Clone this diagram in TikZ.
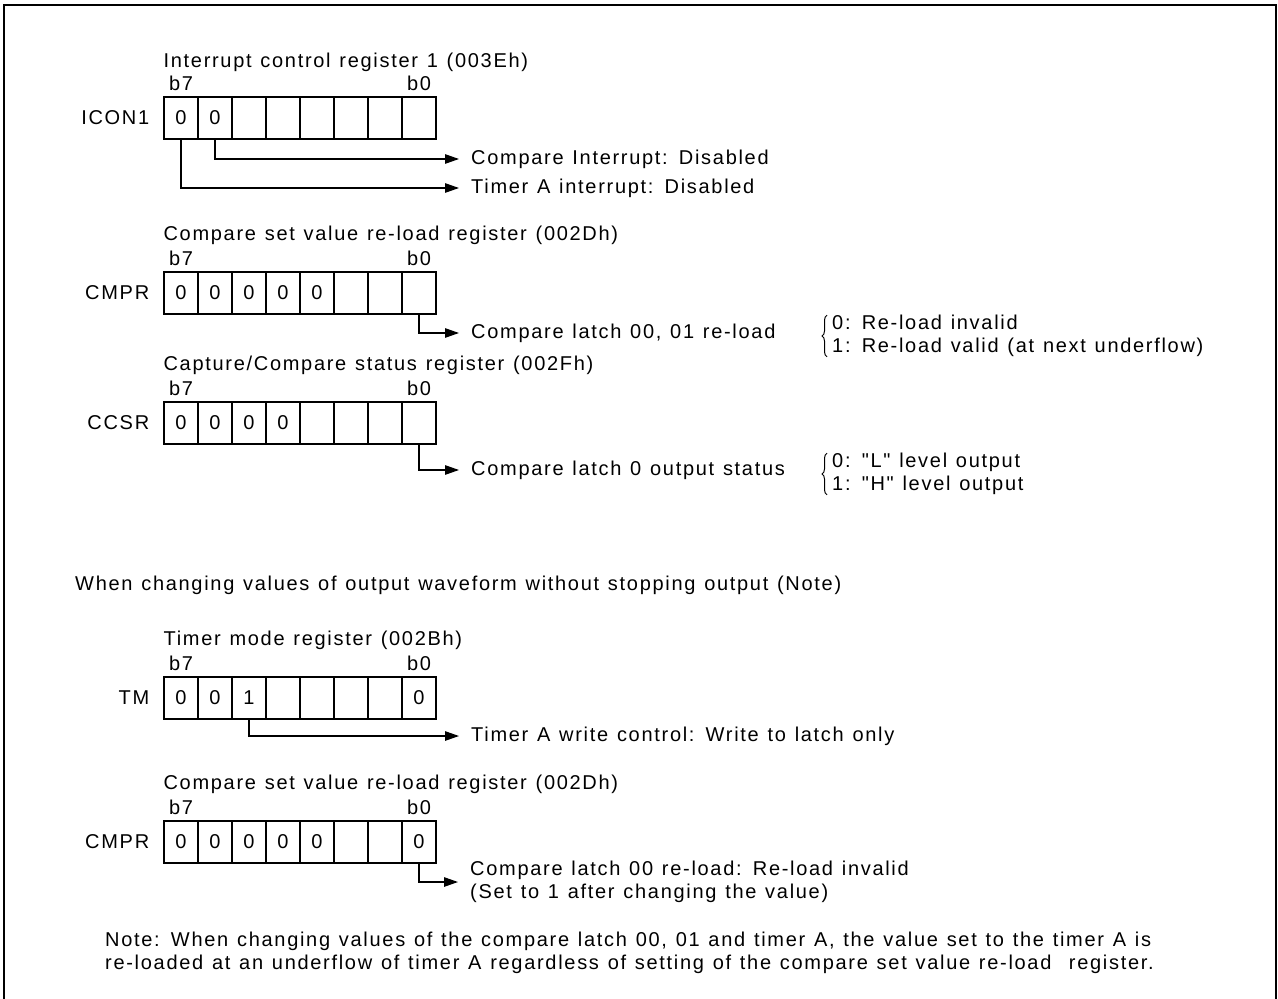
\documentclass[tikz,border=0pt]{standalone}
\usepackage{fontspec}
\setmainfont{Liberation Sans}[LetterSpace=8.5, WordSpace=1.21, Ligatures=TeXOff]
\usetikzlibrary{positioning,arrows.meta,decorations.pathreplacing}

\tikzset{
  txt/.style={inner sep=0pt, font=\fontsize{20}{22.5}\selectfont},
  bit/.style={txt, draw, line width=1.2pt, minimum width=34pt, minimum height=42pt},
  desc/.style={txt, anchor=west, text height=14.5pt, text depth=4.2pt},
  note/.style={txt, anchor=west, align=left},
  pointer/.style={line width=1.2pt, -{Triangle[length=14pt,width=9.5pt]}, shorten >=12pt},
  choice/.style={decorate, decoration={brace, amplitude=5pt}, line width=1pt},
}

\begin{document}
\begin{tikzpicture}[x=1pt, y=-1pt]
    \useasboundingbox (0,0) rectangle (1278,999);
    \draw[line width=2pt] (4,5) rectangle (1276,1012);

    % ICON1
    \foreach \v [count=\i] in {0,0,{},{},{},{},{},{}}
        \node[bit] (icon1-\i) at (147+34*\i, 118) {\v};
    \node[txt, left=14pt of icon1-1] (icon1) {ICON1};
    \node[txt, above=6pt of icon1-1] (icon1-b7) {b7};
    \node[txt, above=6pt of icon1-8] (icon1-b0) {b0};
    \node[txt, above=29pt of icon1-1.north west, anchor=base west] (icon1-title)
    {Interrupt control register 1 (003Eh)};
    \node[desc] (icon1-cmp) at (471,159) {Compare Interrupt: Disabled};
    \node[desc] (icon1-tma) at (471,188) {Timer A interrupt: Disabled};
    \draw[pointer] (icon1-2.south) |- (icon1-cmp.west);
    \draw[pointer] (icon1-1.south) |- (icon1-tma.west);

    % CMPR
    \foreach \v [count=\i] in {0,0,0,0,0,{},{},{}}
        \node[bit] (cmpr-\i) at (147+34*\i, 293) {\v};
    \node[txt, left=14pt of cmpr-1] (cmpr) {CMPR};
    \node[txt, above=6pt of cmpr-1] (cmpr-b7) {b7};
    \node[txt, above=6pt of cmpr-8] (cmpr-b0) {b0};
    \node[txt, above=31pt of cmpr-1.north west, anchor=base west] (cmpr-title)
    {Compare set value re-load register (002Dh)};
    \node[desc] (cmpr-latch) at (471,333) {Compare latch 00, 01 re-load};
    \node[note] (cmpr-opts) at (832,336)
    {0: Re-load invalid\\1: Re-load valid (at next underflow)};
    \draw[pointer] (cmpr-8.south) |- (cmpr-latch.west);
    \draw[choice] ([xshift=-5pt]cmpr-opts.south west) -- ([xshift=-5pt]cmpr-opts.north west);

    % CCSR
    \foreach \v [count=\i] in {0,0,0,0,{},{},{},{}}
        \node[bit] (ccsr-\i) at (147+34*\i, 423) {\v};
    \node[txt, left=14pt of ccsr-1] (ccsr) {CCSR};
    \node[txt, above=6pt of ccsr-1] (ccsr-b7) {b7};
    \node[txt, above=6pt of ccsr-8] (ccsr-b0) {b0};
    \node[txt, above=31pt of ccsr-1.north west, anchor=base west] (ccsr-title)
    {Capture/Compare status register (002Fh)};
    \node[desc] (ccsr-out) at (471,470) {Compare latch 0 output status};
    \node[note] (ccsr-opts) at (832,474)
    {0: "L" level output\\1: "H" level output};
    \draw[pointer] (ccsr-8.south) |- (ccsr-out.west);
    \draw[choice] ([xshift=-5pt]ccsr-opts.south west) -- ([xshift=-5pt]ccsr-opts.north west);

    \node[txt, anchor=west] (change) at (75,585)
    {When changing values of output waveform without stopping output (Note)};

    % TM
    \foreach \v [count=\i] in {0,0,1,{},{},{},{},0}
        \node[bit] (tm-\i) at (147+34*\i, 698) {\v};
    \node[txt, left=14pt of tm-1] (tm) {TM};
    \node[txt, above=6pt of tm-1] (tm-b7) {b7};
    \node[txt, above=6pt of tm-8] (tm-b0) {b0};
    \node[txt, above=31pt of tm-1.north west, anchor=base west] (tm-title)
    {Timer mode register (002Bh)};
    \node[desc] (tm-write) at (471,736) {Timer A write control: Write to latch only};
    \draw[pointer] (tm-3.south) |- (tm-write.west);

    % CMPR again
    \foreach \v [count=\i] in {0,0,0,0,0,{},{},0}
        \node[bit] (cmpr2-\i) at (147+34*\i, 842) {\v};
    \node[txt, left=14pt of cmpr2-1] (cmpr2) {CMPR};
    \node[txt, above=6pt of cmpr2-1] (cmpr2-b7) {b7};
    \node[txt, above=6pt of cmpr2-8] (cmpr2-b0) {b0};
    \node[txt, above=31pt of cmpr2-1.north west, anchor=base west] (cmpr2-title)
    {Compare set value re-load register (002Dh)};
    \node[note] (cmpr2-latch) at (470,882)
    {Compare latch 00 re-load: Re-load invalid\\(Set to 1 after changing the value)};
    \draw[pointer] (cmpr2-8.south) |- (cmpr2-latch.west);

    \node[note] (note) at (105,953)
    {Note: When changing values of the compare latch 00, 01 and timer A, the value set to the timer A is\\
    re-loaded at an underflow of timer A regardless of setting of the compare set value re-load\ \ register.};
\end{tikzpicture}
\end{document}
